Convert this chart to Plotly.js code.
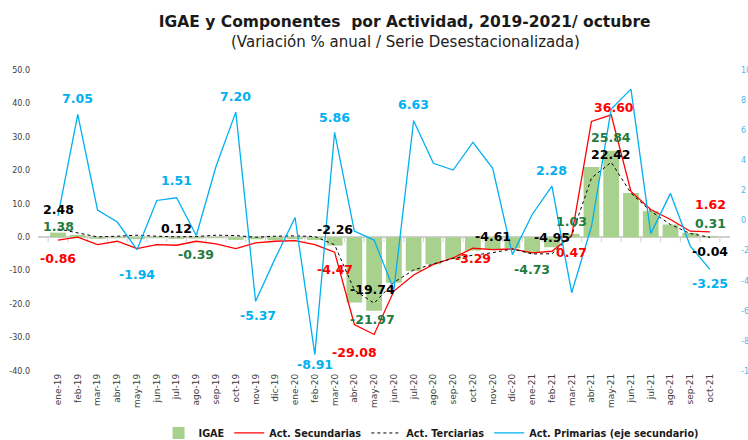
<!DOCTYPE html>
<html>
<head>
<meta charset="utf-8">
<script src="https://cdn.plot.ly/plotly-3.0.1.min.js"></script>
<style>html,body{margin:0;padding:0;background:#fff;}#chart{width:748px;height:440px;}</style>
</head>
<body>
<div id="chart"></div>
<script>
// ---- data ----
const categories = ["ene-19","feb-19","mar-19","abr-19","may-19","jun-19","jul-19","ago-19","sep-19","oct-19","nov-19","dic-19",
  "ene-20","feb-20","mar-20","abr-20","may-20","jun-20","jul-20","ago-20","sep-20","oct-20","nov-20","dic-20",
  "ene-21","feb-21","mar-21","abr-21","may-21","jun-21","jul-21","ago-21","sep-21","oct-21"];
const igae = [1.38, 0.7, -0.5, -0.3, -0.6, -0.3, -0.5, -0.39, -0.3, -0.8, -0.6, -0.9,
  -0.6, -0.8, -2.5, -19.5, -21.97, -13.6, -10.1, -8.1, -6.5, -4.0, -3.6, -3.3,
  -4.73, -3.0, 1.03, 21.0, 25.84, 13.2, 7.8, 3.8, 1.3, 0.31];
const secundarias = [-0.86, 0.0, -2.2, -1.2, -3.4, -2.2, -2.4, -1.2, -2.0, -3.4, -1.7, -1.2,
  -1.0, -2.2, -4.47, -26.1, -29.08, -16.1, -11.3, -8.1, -6.2, -3.29, -3.7, -3.5,
  -4.7, -4.2, 0.47, 34.6, 36.60, 13.7, 8.3, 5.3, 1.8, 1.62];
const terciarias = [2.48, 1.3, 0.1, 0.3, 0.6, 0.3, 0.12, 0.2, 0.6, 0.5, 0.0, 0.3,
  0.4, 0.2, -2.26, -15.8, -19.74, -13.5, -9.8, -8.0, -6.3, -5.4, -4.61, -3.5,
  -5.0, -4.95, 0.5, 17.7, 22.42, 13.2, 7.8, 3.8, 1.1, -0.04];
const primarias = [0.3, 7.05, 0.7, -0.1, -1.94, 1.33, 1.51, -1.0, 3.6, 7.20, -5.37, -2.5,
  0.2, -8.91, 5.86, -0.7, -1.3, -4.6, 6.63, 3.8, 3.35, 5.2, 3.47, -2.27,
  0.4, 2.28, -4.8, -0.4, 7.4, 8.73, -0.87, 1.8, -1.7, -3.25];
const leftTicks = [50, 40, 30, 20, 10, 0, -10, -20, -30, -40];
const rightTicks = [10, 8, 6, 4, 2, 0, -2, -4, -6, -8, -10];

// labelled points: [category index, xshift, yshift]
const labelsIgae = [[0, 0, 6], [7, 0, -16], [16, -2, -9], [24, 0, -16], [26, 0, 12], [28, 0, 13], [33, 0, 13]];
const labelsSec = [[0, 0, -18], [14, 0, -17], [16, -20, -18], [21, 0, -10], [26, 0, -17], [28, 3, 7], [33, 0, 27]];
const labelsTer = [[0, 0, 19], [6, 0, 8], [14, 0, 15], [16, -2, 14], [22, 0, 16], [25, 0, 16], [28, 0, 8], [33, 0, -14]];
const labelsPri = [[1, 0, 16], [4, 0, -25], [6, 0, 17], [9, 0, 16], [10, 2, -14], [13, 0, -10], [14, 0, 15], [18, 0, 16], [25, 0, 16], [33, 0, -14]];

const cBlue = "#00b0f0", cRed = "#ff0000", cGreen = "#a9d18e", cGreenTxt = "#1f7b3e";

const traces = [
  {type: "bar", name: "IGAE", x: categories, y: igae, marker: {color: cGreen}, yaxis: "y"},
  {type: "scatter", mode: "lines", name: "Act. Secundarias", x: categories, y: secundarias, line: {color: cRed, width: 1.3}, yaxis: "y"},
  {type: "scatter", mode: "lines", name: "Act. Terciarias", x: categories, y: terciarias, line: {color: "#000000", width: 1, dash: "dot"}, yaxis: "y"},
  {type: "scatter", mode: "lines", name: "Act. Primarias (eje secundario)", x: categories, y: primarias, line: {color: cBlue, width: 1.3}, yaxis: "y2"}
];

const annFont = (c) => ({family: "DejaVu Sans, sans-serif", size: 12.5, color: c, weight: 700});
const annotations = [];
function addLabels(list, series, color, yref) {
  list.forEach(([i, xs, ys]) => {
    annotations.push({x: categories[i], y: series[i], xref: "x", yref: yref, text: "<b>" + series[i].toFixed(2) + "</b>",
      showarrow: false, xshift: xs, yshift: ys, font: annFont(color), xanchor: "center", yanchor: "middle"});
  });
}
addLabels(labelsIgae, igae, cGreenTxt, "y");
addLabels(labelsSec, secundarias, cRed, "y");
addLabels(labelsTer, terciarias, "#000000", "y");
addLabels(labelsPri, primarias, cBlue, "y2");
annotations.push({xref: "paper", yref: "paper", x: 0.531, y: 1.093, xanchor: "center", yanchor: "middle", showarrow: false,
  text: "(Variación % anual / Serie Desestacionalizada)", font: {family: "DejaVu Sans, sans-serif", size: 15, color: "#222222"}});

// small category-boundary ticks hanging from the zero line (axis styling)
const shapes = [];
for (let k = 0; k <= categories.length; k++) {
  shapes.push({type: "line", xref: "x", yref: "y", ysizemode: "pixel", yanchor: 0, x0: k - 0.5, x1: k - 0.5, y0: 0, y1: -5,
    line: {color: "#d0d0d0", width: 1}, layer: "below"});
}

const layout = {
  width: 748, height: 440,
  margin: {l: 38, r: 18, t: 70, b: 69, pad: 0},
  paper_bgcolor: "#ffffff", plot_bgcolor: "#ffffff",
  showlegend: true,
  title: {text: "<b>IGAE y Componentes  por Actividad, 2019-2021/ octubre</b>", xref: "container", yref: "container",
    x: 0.541, y: 0.95, xanchor: "center", yanchor: "middle",
    font: {family: "DejaVu Sans, sans-serif", size: 15.5, color: "#1a1a1a"}},
  bargap: 0.2,
  xaxis: {type: "category", tickangle: -90, showgrid: false, showline: false, zeroline: false, ticks: "",
    tickfont: {family: "DejaVu Sans, sans-serif", size: 9, color: "#404040"}, automargin: false},
  yaxis: {range: [-40, 50], tickvals: leftTicks, ticktext: leftTicks.map(v => v.toFixed(1)), showgrid: false,
    zeroline: true, zerolinecolor: "#d0d0d0", zerolinewidth: 1.5, showline: false, ticks: "", ticklabelstandoff: 7,
    tickfont: {family: "DejaVu Sans, sans-serif", size: 8, color: "#404040"}, automargin: false},
  yaxis2: {range: [-10, 10], overlaying: "y", side: "right", tickvals: rightTicks, ticktext: rightTicks.map(String),
    showgrid: false, zeroline: false, showline: false, ticks: "", ticklabelstandoff: 10,
    tickfont: {family: "DejaVu Sans, sans-serif", size: 8, color: "#4db8e8"}, automargin: false},
  legend: {orientation: "h", x: 0.568, y: 0.016, xref: "paper", yref: "container", xanchor: "center", yanchor: "middle",
    font: {family: "DejaVu Sans, sans-serif", size: 9.7, color: "#1a1a1a", weight: 700}, traceorder: "normal",
    itemwidth: 30, tracegroupgap: 0},
  shapes: shapes,
  annotations: annotations
};

Plotly.newPlot("chart", traces, layout, {staticPlot: true, displayModeBar: false});
</script>
</body>
</html>
